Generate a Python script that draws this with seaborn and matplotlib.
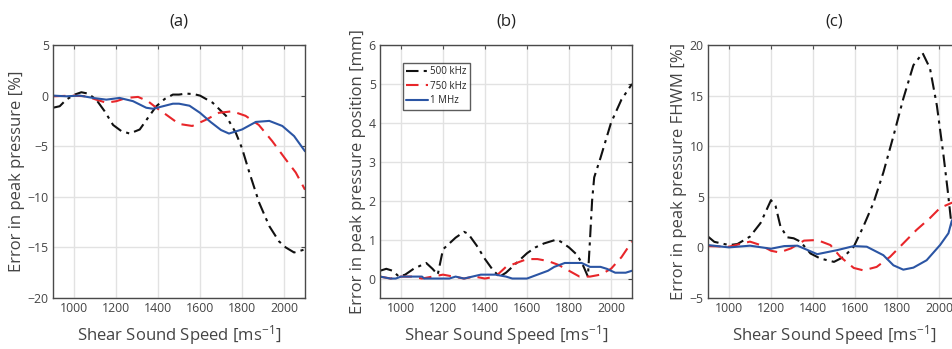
import numpy as np
import pandas as pd
import matplotlib
matplotlib.use("Agg")
import matplotlib.pyplot as plt
import seaborn as sns

# ---------------- data ----------------
# Panel (a): error in peak pressure [%]
a_x500 = [900, 932, 963, 1003, 1035, 1067, 1106, 1146, 1186, 1225, 1265, 1313, 1352, 1392,
          1432, 1471, 1500, 1532, 1570, 1600, 1660, 1724, 1771, 1800, 1835, 1882, 1930,
          1976, 2008, 2048, 2100]
a_500 = [-1.2, -1.05, -0.4, 0.1, 0.33, 0.2, -0.4, -1.55, -2.9, -3.5, -3.75, -3.35, -2.2, -1.05,
         -0.33, 0.1, 0.1, 0.2, 0.15, 0.0, -0.7, -2.0, -3.7, -5.2, -7.6, -10.6, -12.9,
         -14.4, -15.0, -15.5, -15.2]
a_x750 = [900, 995, 1059, 1106, 1154, 1202, 1249, 1305, 1352, 1392, 1440, 1500, 1563, 1627,
          1690, 1754, 1817, 1880, 1944, 2008, 2056, 2100]
a_750 = [-0.07, 0.0, -0.07, -0.4, -0.7, -0.55, -0.23, -0.13, -0.55, -1.2, -1.9, -2.8, -3.0, -2.4,
         -1.7, -1.55, -2.0, -2.9, -4.5, -6.3, -7.6, -9.3]
a_x1000 = [900, 963, 1027, 1090, 1154, 1217, 1281, 1344, 1376, 1424, 1471, 1500, 1550, 1600,
           1650, 1700, 1738, 1800, 1866, 1930, 1992, 2048, 2100]
a_1000 = [0.0, -0.07, 0.0, -0.23, -0.4, -0.23, -0.55, -1.2, -1.3, -1.05, -0.8, -0.8, -1.0, -1.7,
          -2.6, -3.4, -3.75, -3.35, -2.6, -2.5, -3.0, -4.0, -5.5]

# Panel (b): error in peak pressure position [mm]
b_x500 = [900, 930, 960, 990, 1020, 1060, 1100, 1120, 1150, 1175, 1200, 1230, 1260, 1300,
          1320, 1360, 1400, 1440, 1470, 1500, 1530, 1560, 1600, 1640, 1680, 1740, 1760, 1800,
          1840, 1870, 1890, 1900, 1910, 1920, 1950, 2000, 2050, 2100]
b_500 = [0.2, 0.25, 0.2, 0.05, 0.1, 0.25, 0.35, 0.4, 0.25, 0.1, 0.75, 0.9, 1.05, 1.2,
         1.15, 0.85, 0.5, 0.2, 0.05, 0.15, 0.3, 0.45, 0.65, 0.8, 0.9, 1.0, 0.95, 0.8,
         0.6, 0.3, 0.05, 1.0, 2.0, 2.6, 3.1, 4.0, 4.6, 5.0]
b_x750 = [900, 950, 1000, 1050, 1100, 1150, 1200, 1250, 1300, 1350, 1400, 1450, 1500, 1550,
          1600, 1650, 1700, 1750, 1800, 1850, 1900, 1950, 2000, 2050, 2100]
b_750 = [0.05, 0.0, 0.05, 0.05, 0.0, 0.05, 0.1, 0.05, 0.0, 0.05, 0.0, 0.05, 0.3, 0.4,
         0.5, 0.5, 0.45, 0.35, 0.2, 0.05, 0.05, 0.1, 0.25, 0.55, 0.95]
b_x1000 = [900, 950, 975, 1000, 1050, 1100, 1110, 1200, 1230, 1260, 1300, 1340, 1380, 1450,
           1500, 1530, 1600, 1650, 1700, 1730, 1780, 1860, 1900, 1950, 1980, 2020, 2070, 2100]
b_1000 = [0.05, 0.0, 0.0, 0.05, 0.05, 0.05, 0.0, 0.0, 0.0, 0.05, 0.0, 0.05, 0.1, 0.1,
          0.05, 0.0, 0.0, 0.1, 0.2, 0.3, 0.4, 0.4, 0.3, 0.3, 0.25, 0.15, 0.15, 0.2]

# Panel (c): error in peak pressure FHWM [%]
c_x500 = [900, 930, 1000, 1040, 1100, 1150, 1200, 1222, 1245, 1277, 1308, 1340, 1388, 1435,
          1500, 1547, 1594, 1640, 1688, 1735, 1783, 1830, 1878, 1922, 1957, 1990, 2022,
          2041, 2057, 2075, 2100]
c_500 = [1.07, 0.55, 0.23, 0.33, 1.07, 2.4, 4.67, 4.07, 2.07, 1.0, 0.9, 0.57, -0.6, -1.1,
         -1.43, -0.93, 0.07, 2.07, 4.4, 7.4, 11.0, 14.7, 18.0, 19.2, 17.7, 14.0, 9.0,
         5.7, 2.7, 1.5, 1.0]
c_x750 = [900, 1000, 1100, 1150, 1200, 1240, 1295, 1357, 1420, 1483, 1530, 1594, 1640, 1703,
          1767, 1830, 1893, 1957, 2005, 2060, 2100]
c_750 = [0.13, 0.07, 0.57, 0.23, -0.33, -0.5, -0.1, 0.67, 0.73, 0.23, -0.93, -2.03, -2.27, -1.93,
         -0.93, 0.4, 1.73, 2.9, 3.9, 4.4, 4.6]
c_x1000 = [900, 1000, 1100, 1200, 1263, 1326, 1420, 1515, 1594, 1656, 1735, 1783, 1830, 1878,
           1941, 2005, 2045, 2060, 2100]
c_1000 = [0.23, 0.0, 0.17, -0.13, 0.13, 0.17, -0.67, -0.27, 0.13, 0.07, -0.77, -1.77, -2.2, -2.0,
          -1.27, 0.23, 1.4, 2.57, 4.2]

labels = ["500 kHz", "750 kHz", "1 MHz"]
titles = ["(a)", "(b)", "(c)"]
ylabels = ["Error in peak pressure [%]", "Error in peak pressure position [mm]",
           "Error in peak pressure FHWM [%]"]
xlabel = "Shear Sound Speed [ms$^{-1}$]"
xticks = [1000, 1200, 1400, 1600, 1800, 2000]
yticks_list = [[-20, -15, -10, -5, 0, 5], [0, 1, 2, 3, 4, 5, 6], [-5, 0, 5, 10, 15, 20]]
ylims = [(-20, 5), (-0.5, 6), (-5, 20)]

# ---------------- style ----------------
sns.set_style("white")
plt.rcParams["font.family"] = ["Open Sans", "DejaVu Sans"]
plt.rcParams["mathtext.fontset"] = "custom"
plt.rcParams["mathtext.rm"] = "Open Sans"
plt.rcParams["mathtext.it"] = "Open Sans"

colors = ["#111111", "#e8262a", "#2b55a4"]
styles = [dict(linestyle=(0, (6, 2.5, 1.5, 2.5))), dict(linestyle=(0, (6, 3.5))),
          dict(linestyle="-")]

fig = plt.figure(figsize=(9.53, 3.49), dpi=100)
W, H = 953, 349
lefts = [53, 380, 708]
aw, top, bot = 252, 45, 298
axes = [fig.add_axes([l / W, (H - bot) / H, aw / W, (bot - top) / H]) for l in lefts]

series = [
    [(a_x500, a_500), (a_x750, a_750), (a_x1000, a_1000)],
    [(b_x500, b_500), (b_x750, b_750), (b_x1000, b_1000)],
    [(c_x500, c_500), (c_x750, c_750), (c_x1000, c_1000)],
]

for i, ax in enumerate(axes):
    for j, (xs, ys) in enumerate(series[i]):
        df = pd.DataFrame({"x": xs, "y": ys})
        sns.lineplot(data=df, x="x", y="y", ax=ax, color=colors[j], lw=1.5,
                     label=labels[j] if i == 1 else None, legend=(i == 1),
                     sort=False, **styles[j])
    ax.set_xlim(900, 2100)
    ax.set_ylim(*ylims[i])
    ax.set_xticks(xticks)
    ax.set_yticks(yticks_list[i])
    ax.grid(True, color="#e2e2e2", lw=1.0)
    ax.set_axisbelow(True)
    for s in ax.spines.values():
        s.set_color("#4a4a4a")
        s.set_linewidth(1.0)
    ax.tick_params(direction="in", length=3, width=0.8, color="#4a4a4a",
                   labelsize=8.8, labelcolor="#444444", top=True, right=True, pad=3)
    ax.set_title(titles[i], fontsize=12, color="#222222", pad=14)
    ax.set_xlabel(xlabel, fontsize=12, color="#444444", labelpad=6)
    ax.set_ylabel(ylabels[i], fontsize=12, color="#444444", labelpad=2)

leg = axes[1].legend(loc="upper left", bbox_to_anchor=(0.07, 0.95), fontsize=7,
                     frameon=True, fancybox=False, handlelength=2.2, borderpad=0.4,
                     labelspacing=0.35, handletextpad=0.2)
leg.get_frame().set_edgecolor("#333333")
leg.get_frame().set_linewidth(1.0)

fig.savefig("out.png", dpi=100)
